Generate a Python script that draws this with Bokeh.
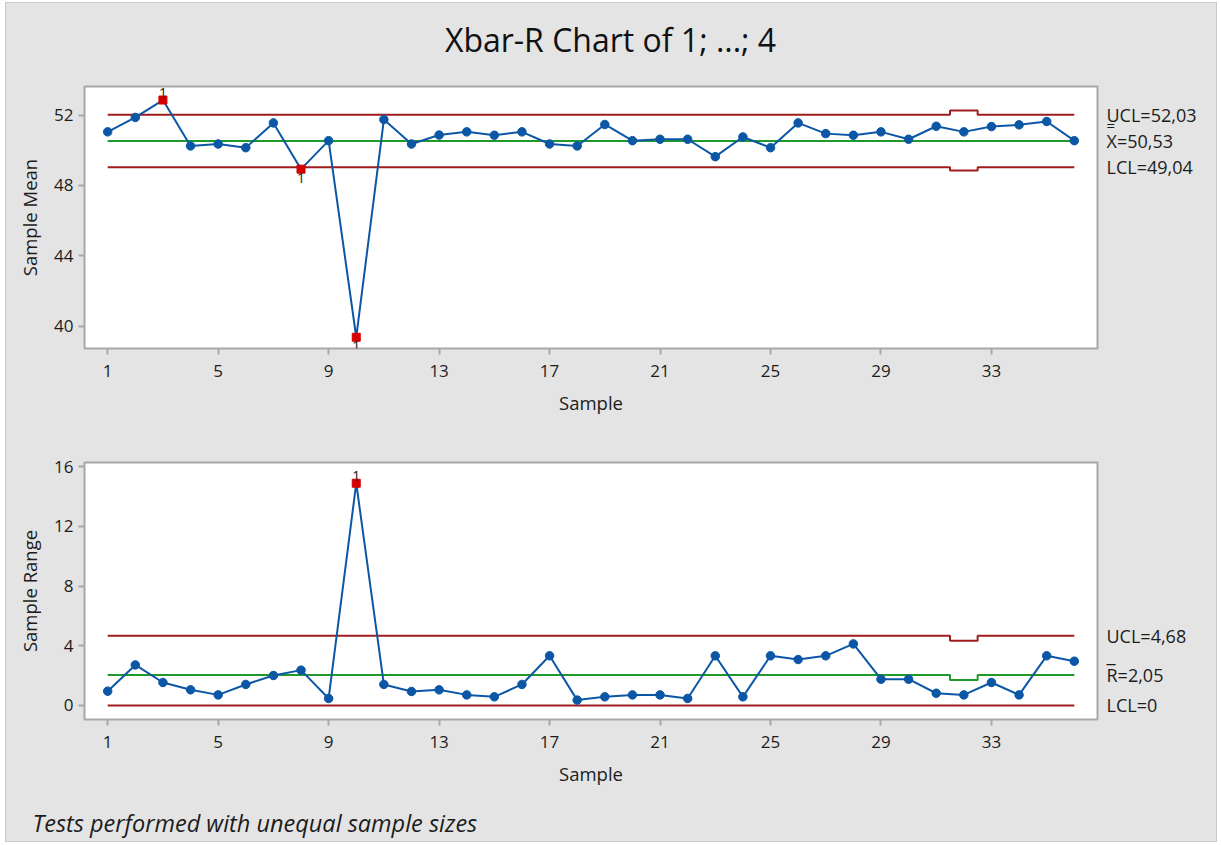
from bokeh.plotting import figure
from bokeh.layouts import column, row
from bokeh.models import Label, FixedTicker
from bokeh.core.properties import value
from bokeh.embed import file_html
from bokeh.resources import INLINE

# ---- data -----------------------------------------------------------------
samples = list(range(1, 37))

sample_mean = [51.05, 51.87, 52.86, 50.25, 50.36, 50.15, 51.56, 48.93, 50.55, 39.37,
               51.75, 50.36, 50.87, 51.05, 50.86, 51.05, 50.36, 50.25, 51.47, 50.55,
               50.63, 50.63, 49.64, 50.76, 50.15, 51.56, 50.95, 50.86, 51.05, 50.63,
               51.37, 51.05, 51.35, 51.45, 51.64, 50.55]

sample_range = [0.96, 2.72, 1.54, 1.05, 0.71, 1.41, 2.01, 2.37, 0.47, 14.90,
                1.41, 0.94, 1.05, 0.71, 0.58, 1.41, 3.33, 0.36, 0.58, 0.71,
                0.71, 0.47, 3.33, 0.58, 3.33, 3.08, 3.33, 4.13, 1.76, 1.76,
                0.82, 0.71, 1.54, 0.71, 3.33, 2.97]

mean_center = 50.53
mean_ucl = 52.03
mean_lcl = 49.04
range_center = 2.05
range_ucl = 4.68
range_lcl = 0

# sample 32 has a smaller subgroup, so its limits differ
short_sample = 32
mean_ucl_short = 52.26
mean_lcl_short = 48.85
range_ucl_short = 4.34
range_center_short = 1.70

# points failing test 1
mean_flagged = [3, 8, 10]
mean_flag_above = [True, False, False]
range_flagged = [10]
range_flag_above = [True]

x_ticks = [1, 5, 9, 13, 17, 21, 25, 29, 33]
mean_ticks = [40, 44, 48, 52]
range_ticks = [0, 4, 8, 12, 16]

title_text = "Xbar-R Chart of 1; ...; 4"
footer_text = "Tests performed with unequal sample sizes"

# ---- style ----------------------------------------------------------------
FONT = "Open Sans"
BG = "#e4e4e4"
FRAME = "#a8a8a8"
TXT = "#1c1c1c"
BLUE = "#0b57a6"
RED_PT = "#d40000"
RED_LIM = "#a11d1d"
GREEN = "#1e9a2a"
X_RANGE = (0.16, 36.84)
SIDE_W = 117
PAGE_W = 1210
HEAD_H = 60
FOOT_H = 42


def fmt(v):
    return f"{v:.2f}".replace(".", ",") if v != 0 else "0"


def per_sample(regular, short):
    return [short if s == short_sample else regular for s in samples]


def make_fig(height, y_range, b_top, b_bottom, y_ticks, y_label):
    p = figure(width=PAGE_W - SIDE_W, height=height, x_range=X_RANGE, y_range=y_range,
               output_backend="svg", toolbar_location=None,
               min_border_left=78, min_border_right=2,
               min_border_top=b_top, min_border_bottom=b_bottom)
    p.background_fill_color = "white"
    p.border_fill_color = BG
    p.outline_line_color = FRAME
    p.outline_line_width = 2
    p.grid.visible = False
    for ax in (p.xaxis[0], p.yaxis[0]):
        ax.axis_line_color = None
        ax.major_tick_line_color = FRAME
        ax.major_tick_line_width = 2
        ax.major_tick_out = 6
        ax.major_tick_in = 0
        ax.minor_tick_line_color = None
        ax.major_label_text_font = FONT
        ax.major_label_text_font_size = "17px"
        ax.major_label_text_color = TXT
        ax.axis_label_text_font = FONT
        ax.axis_label_text_font_size = "18.5px"
        ax.axis_label_text_font_style = "normal"
        ax.axis_label_text_color = TXT
    p.xaxis.ticker = FixedTicker(ticks=x_ticks)
    p.yaxis.ticker = FixedTicker(ticks=y_ticks)
    p.xaxis.axis_label = "Sample"
    p.xaxis.major_label_standoff = 10
    p.xaxis.axis_label_standoff = 10
    p.yaxis.axis_label = y_label
    p.yaxis.major_label_standoff = 5
    p.yaxis.axis_label_standoff = 9
    return p


def blank_fig(width, height, y_range=None, b_top=0, b_bottom=0):
    s = figure(width=width, height=height, x_range=(0, width),
               y_range=y_range if y_range is not None else (0, height),
               output_backend="svg", toolbar_location=None,
               x_axis_type=None, y_axis_type=None,
               min_border_left=0, min_border_right=0,
               min_border_top=b_top, min_border_bottom=b_bottom)
    s.background_fill_color = BG
    s.border_fill_color = BG
    s.outline_line_color = None
    s.grid.visible = False
    return s


def side_fig(main):
    return blank_fig(SIDE_W, main.height, main.y_range,
                     main.min_border_top, main.min_border_bottom)


def draw_series(p, values, flagged, flag_above):
    p.line(samples, values, line_color=BLUE, line_width=2)
    ok_x = [s for s in samples if s not in flagged]
    ok_y = [v for s, v in zip(samples, values) if s not in flagged]
    p.scatter(ok_x, ok_y, marker="circle", size=8.5, fill_color=BLUE, line_color=BLUE)
    bad_y = [values[s - 1] for s in flagged]
    p.scatter(flagged, bad_y, marker="square", size=8, fill_color=RED_PT, line_color=RED_PT)
    for s, y, above in zip(flagged, bad_y, flag_above):
        p.add_layout(Label(x=s, y=y, text="1", text_align="center",
                           text_baseline="bottom" if above else "top",
                           y_offset=2 if above else -4,
                           text_font=FONT, text_font_size="14px", text_color="#222222"))


def limit_labels(s, ys, texts):
    s.text(x=[7] * len(ys), y=ys, text=texts, text_baseline="middle",
           text_font=value(FONT), text_font_size="18px", text_color=TXT)


# ---- title strip --------------------------------------------------------------
head = blank_fig(PAGE_W, HEAD_H)
head.text(x=[604], y=[24], text=[title_text], text_align="center", text_baseline="middle",
          text_font=value(FONT), text_font_size="32px", text_color="#111111")

# ---- Xbar chart -----------------------------------------------------------
p1 = make_fig(366, (38.73, 53.63), 23, 81, mean_ticks, "Sample Mean")
p1.step(samples, per_sample(mean_ucl, mean_ucl_short), mode="center",
        line_color=RED_LIM, line_width=2)
p1.step(samples, per_sample(mean_lcl, mean_lcl_short), mode="center",
        line_color=RED_LIM, line_width=2)
p1.line([samples[0], samples[-1]], [mean_center, mean_center], line_color=GREEN, line_width=2)
draw_series(p1, sample_mean, mean_flagged, mean_flag_above)

s1 = side_fig(p1)
limit_labels(s1, [mean_ucl, mean_center, mean_lcl],
             [f"UCL={fmt(mean_ucl)}", f"X={fmt(mean_center)}", f"LCL={fmt(mean_lcl)}"])
# double bar over the X of the grand-mean label
s1.text(x=[7], y=[mean_center], text=["="], text_baseline="middle", y_offset=-16,
        text_font=value(FONT), text_font_size="15px", text_color=TXT)

# ---- R chart --------------------------------------------------------------
p2 = make_fig(370, (-0.94, 16.29), 33, 80, range_ticks, "Sample Range")
p2.step(samples, per_sample(range_ucl, range_ucl_short), mode="center",
        line_color=RED_LIM, line_width=2)
p2.line([samples[0], samples[-1]], [range_lcl, range_lcl], line_color=RED_LIM, line_width=2)
p2.step(samples, per_sample(range_center, range_center_short), mode="center",
        line_color=GREEN, line_width=2)
draw_series(p2, sample_range, range_flagged, range_flag_above)

s2 = side_fig(p2)
limit_labels(s2, [range_ucl, range_center, range_lcl],
             [f"UCL={fmt(range_ucl)}", f"R={fmt(range_center)}", f"LCL={fmt(range_lcl)}"])
# bar over the R of the mean-range label
s2.text(x=[7], y=[range_center], text=["\u00af"], text_baseline="middle", y_offset=-3,
        text_font=value(FONT), text_font_size="18px", text_color=TXT)

# ---- footnote strip ---------------------------------------------------------
foot = blank_fig(PAGE_W, FOOT_H)
foot.text(x=[26], y=[19], text=[footer_text], text_baseline="middle",
          text_font=value(FONT), text_font_size="23.5px", text_font_style="italic",
          text_color=TXT)

layout = column(head, row(p1, s1, spacing=0), row(p2, s2, spacing=0), foot, spacing=0,
                margin=(3, 4, 3, 6),
                styles={"outline": "1px solid #c8c8c8", "background-color": BG})

open("out.html", "w").write(file_html(layout, INLINE))
